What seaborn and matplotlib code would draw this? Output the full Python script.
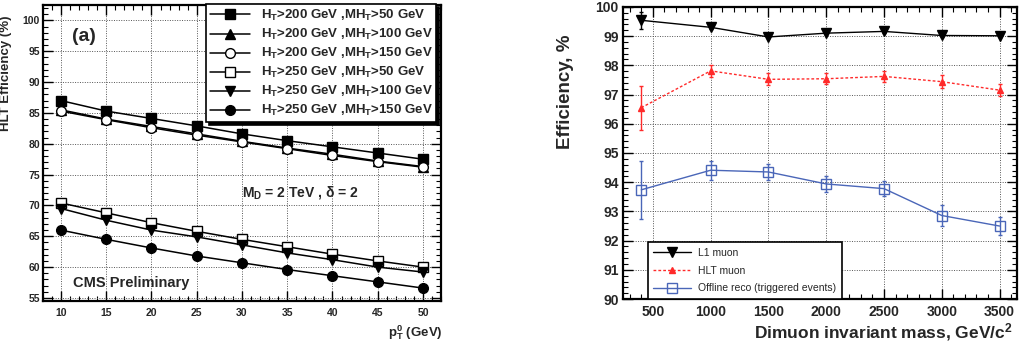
import numpy as np
import pandas as pd
import matplotlib
matplotlib.use("Agg")
import matplotlib.pyplot as plt
from matplotlib.ticker import MultipleLocator
import seaborn as sns

# ---------------- data: left panel ----------------
pt0 = [10, 15, 20, 25, 30, 35, 40, 45, 50]
s_200_50 = [87.0, 85.3, 84.1, 82.9, 81.6, 80.5, 79.5, 78.5, 77.5]
s_200_100 = [85.5, 84.0, 82.8, 81.6, 80.4, 79.3, 78.3, 77.2, 76.3]
s_200_150 = [85.3, 83.9, 82.6, 81.4, 80.3, 79.2, 78.1, 77.1, 76.2]
s_250_50 = [70.4, 68.8, 67.2, 65.8, 64.5, 63.3, 62.1, 61.0, 60.0]
s_250_100 = [69.5, 67.6, 66.0, 64.9, 63.6, 62.3, 61.2, 60.0, 59.2]
s_250_150 = [66.0, 64.5, 63.1, 61.8, 60.7, 59.6, 58.6, 57.6, 56.6]
left_labels = [r"H$_\mathregular{T}$>200 GeV ,MH$_\mathregular{T}$>50 GeV",
               r"H$_\mathregular{T}$>200 GeV ,MH$_\mathregular{T}$>100 GeV",
               r"H$_\mathregular{T}$>200 GeV ,MH$_\mathregular{T}$>150 GeV",
               r"H$_\mathregular{T}$>250 GeV ,MH$_\mathregular{T}$>50 GeV",
               r"H$_\mathregular{T}$>250 GeV ,MH$_\mathregular{T}$>100 GeV",
               r"H$_\mathregular{T}$>250 GeV ,MH$_\mathregular{T}$>150 GeV"]

# ---------------- data: right panel ----------------
mass = [400, 1000, 1500, 2000, 2500, 3000, 3500]
l1_eff = [99.54, 99.30, 98.97, 99.10, 99.16, 99.02, 99.01]
l1_err = [0.29, 0.05, 0.04, 0.04, 0.04, 0.04, 0.04]
hlt_eff = [96.55, 97.81, 97.52, 97.54, 97.62, 97.44, 97.15]
hlt_err = [0.75, 0.21, 0.20, 0.19, 0.20, 0.22, 0.21]
off_eff = [93.74, 94.41, 94.35, 93.94, 93.78, 92.86, 92.50]
off_err = [0.99, 0.32, 0.27, 0.28, 0.26, 0.35, 0.32]
right_labels = ["L1 muon", "HLT muon", "Offline reco (triggered events)"]

sns.set_style("ticks")
plt.rcParams['font.family'] = ['Liberation Sans', 'DejaVu Sans']
plt.rcParams['mathtext.fontset'] = 'custom'
plt.rcParams['mathtext.rm'] = 'Liberation Sans:bold'
plt.rcParams['mathtext.it'] = 'Liberation Sans:bold'
plt.rcParams['mathtext.bf'] = 'Liberation Sans:bold'

fig = plt.figure(figsize=(10.21, 3.43), dpi=100)
axL = fig.add_axes([0.042, 0.1224, 0.39, 0.863])
axR = fig.add_axes([0.610, 0.128, 0.386, 0.852])


def root_style(ax):
    for sp in ax.spines.values():
        sp.set_visible(True)
        sp.set_linewidth(1.6)
        sp.set_color('black')
    ax.tick_params(which='both', direction='in', top=True, right=True, color='black')
    ax.tick_params(which='major', length=7, width=1.0)
    ax.tick_params(which='minor', length=3.5, width=0.8)
    ax.grid(True, which='major', linestyle=(0, (1, 1.5)), color='#555555', linewidth=0.7)
    ax.set_axisbelow(True)


# ---------------- left panel ----------------
series = [s_200_50, s_200_100, s_200_150, s_250_50, s_250_100, s_250_150]
markers = ['s', '^', 'o', 's', 'v', 'o']
faces = ['black', 'black', 'white', 'white', 'black', 'black']
for vals, mk, fc, lab in zip(series, markers, faces, left_labels):
    df = pd.DataFrame({'pt': pt0, 'eff': vals})
    sns.lineplot(data=df, x='pt', y='eff', ax=axL, color='black', linewidth=1.1,
                 marker=mk, markersize=7, markerfacecolor=fc, markeredgecolor='black',
                 markeredgewidth=1.0, label=lab)

axL.set_xlim(8, 52)
axL.set_ylim(54.5, 102.5)
axL.xaxis.set_major_locator(MultipleLocator(5))
axL.xaxis.set_minor_locator(MultipleLocator(1))
axL.yaxis.set_major_locator(MultipleLocator(5))
axL.yaxis.set_minor_locator(MultipleLocator(1))
root_style(axL)
axL.set_xticks(pt0)
axL.tick_params(axis='y', labelsize=7.5, pad=2)
axL.tick_params(axis='x', labelsize=7.5, pad=5)
for lab in axL.get_xticklabels() + axL.get_yticklabels():
    lab.set_fontweight('bold')
axL.set_ylabel("HLT Efficiency (%)", fontsize=9.5, fontweight='bold')
axL.yaxis.set_label_coords(-0.078, 0.77)
axL.set_xlabel(r"p$_\mathregular{T}^\mathregular{0}$ (GeV)", fontsize=9.5, fontweight='bold')
axL.xaxis.set_label_coords(1.005, -0.075)
axL.xaxis.label.set_ha('right')
axL.text(0.072, 0.892, "(a)", transform=axL.transAxes, fontsize=14, fontweight='bold',
         ha='left', va='center')
axL.text(0.50, 0.365, r"M$_\mathregular{D}$ = 2 TeV , $\delta$ = 2", transform=axL.transAxes,
         fontsize=10, fontweight='bold', ha='left', va='center')
axL.text(0.075, 0.062, "CMS Preliminary", transform=axL.transAxes, fontsize=10.5,
         fontweight='bold', ha='left', va='center')
legL = axL.legend(loc='upper right', bbox_to_anchor=(0.988, 1.003), fontsize=9.5,
                  frameon=True, fancybox=False, edgecolor='black', framealpha=1,
                  handlelength=3.0, labelspacing=0.3, borderpad=0.3, borderaxespad=0.0,
                  shadow={'color': 'black', 'alpha': 1.0})
legL.get_frame().set_linewidth(1.2)
for t in legL.get_texts():
    t.set_fontweight('bold')

# ---------------- right panel ----------------
red = '#ff2a2a'
blue = '#4a66b8'
cfg = [(l1_eff, l1_err, 'black', 'v', 'black', '-', right_labels[0]),
       (hlt_eff, hlt_err, red, '^', red, (0, (2, 1.5)), right_labels[1]),
       (off_eff, off_err, blue, 's', 'none', '-', right_labels[2])]
for vals, errs, col, mk, fc, ls, lab in cfg:
    df = pd.DataFrame({'mass': mass, 'eff': vals})
    sns.lineplot(data=df, x='mass', y='eff', ax=axR, color=col, linewidth=1.0,
                 linestyle=ls, marker=mk, markersize=7 if mk != '^' else 5,
                 markerfacecolor=fc, markeredgecolor=col, markeredgewidth=1.0,
                 label=lab, zorder=3)
    axR.errorbar(mass, vals, yerr=errs, fmt='none', ecolor=col, elinewidth=1.0,
                 capsize=1.5, linestyle=ls, zorder=2)

axR.set_xlim(240, 3650)
axR.set_ylim(90, 100)
axR.xaxis.set_major_locator(MultipleLocator(500))
axR.xaxis.set_minor_locator(MultipleLocator(100))
axR.yaxis.set_major_locator(MultipleLocator(1))
axR.yaxis.set_minor_locator(MultipleLocator(0.2))
root_style(axR)
axR.tick_params(axis='y', labelsize=10, pad=3)
axR.tick_params(axis='x', labelsize=10, pad=4)
for lab in axR.get_xticklabels() + axR.get_yticklabels():
    lab.set_fontweight('bold')
axR.set_ylabel("Efficiency, %", fontsize=13.5, fontweight='bold')
axR.yaxis.set_label_coords(-0.125, 0.71)
axR.set_xlabel(r"Dimuon invariant mass, GeV/c$^\mathregular{2}$", fontsize=12.5, fontweight='bold')
axR.xaxis.set_label_coords(0.99, -0.075)
axR.xaxis.label.set_ha('right')
legR = axR.legend(loc='lower left', bbox_to_anchor=(0.063, 0.0), fontsize=7.5,
                  frameon=True, fancybox=False, edgecolor='black', framealpha=1,
                  handlelength=3.6, handletextpad=0.7, labelspacing=0.75, borderpad=0.55,
                  borderaxespad=0.0)
legR.get_frame().set_linewidth(1.2)

fig.savefig("out.png", dpi=100)
